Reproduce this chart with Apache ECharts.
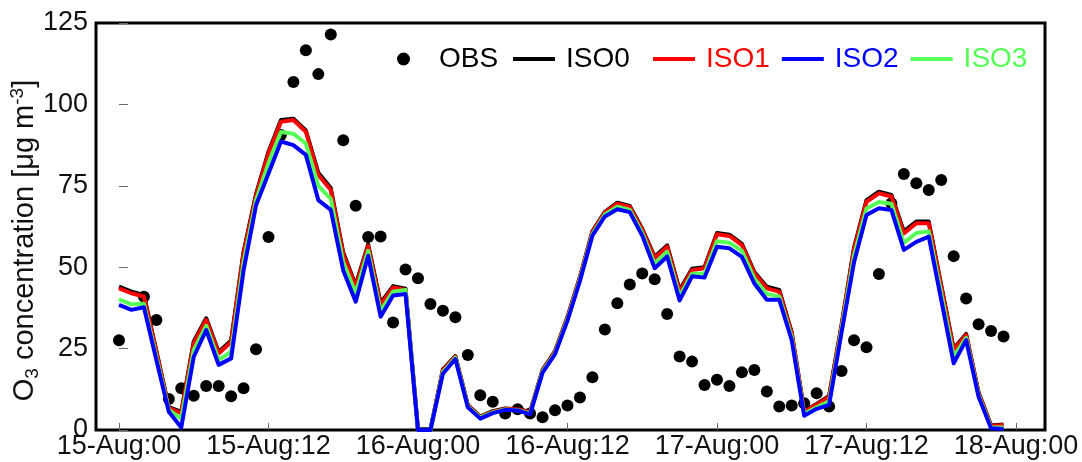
<!DOCTYPE html>
<html>
<head>
<meta charset="utf-8">
<script src="https://cdn.jsdelivr.net/npm/echarts@6/dist/echarts.min.js"></script>
<style>html,body{margin:0;padding:0;background:#fff}#c{width:1082px;height:462px}</style>
</head>
<body>
<div id="c"></div>
<script>
// Hours since 15-Aug 00:00 at which x ticks are drawn, and their labels
const tickHours = [0, 12, 24, 36, 48, 60, 72];
const tickLabels = ['15-Aug:00', '15-Aug:12', '16-Aug:00', '16-Aug:12', '17-Aug:00', '17-Aug:12', '18-Aug:00'];

// Hourly values (index = hour since 15-Aug 00:00); null = no observation
const obs = [27.6, null, 40.9, 33.8, 9.5, 12.8, 10.5, 13.5, 13.5, 10.4,
  12.8, 24.8, 59.3, 90.6, 106.9, 116.6, 109.3, 121.5, 89, 68.9,
  59.3, 59.4, 33, 49.3, 46.6, 38.7, 36.6, 34.6, 23, 10.7,
  8.7, 5.1, 6.4, 5.1, 3.9, 6.1, 7.5, 10, 16.2, 30.9,
  38.9, 44.7, 48.1, 46.3, 35.6, 22.6, 21, 13.8, 15.4, 13.5,
  17.7, 18.4, 11.8, 7.2, 7.5, 8.2, 11.3, 7.2, 18.1, 27.6,
  25.4, 47.9, 69.6, 78.6, 75.8, 73.7, 76.8, 53.4, 40.4, 32.5,
  30.4, 28.7];

const iso0 = [44, 42.5, 41.5, 24.3, 7, 5.6, 27.2, 34.3, 24, 27.5,
  54.8, 72.5, 85.5, 95.2, 95.6, 92, 79, 74.3, 54.5, 44.5,
  57, 39, 44.2, 43.4, 0.2, 0.2, 18.6, 22.7, 7.7, 4.1,
  5.8, 6.6, 6.4, 5.6, 18.5, 24.2, 34.7, 47, 61, 67,
  69.8, 68.8, 61.8, 53.2, 56.7, 43, 49.5, 50, 60.5, 60,
  57.2, 48.5, 44, 43, 30, 5.8, 8, 10.5, 32.3, 56,
  70.6, 73.2, 72.2, 61, 64, 64, 44.5, 25, 29.5, 11.5,
  1.4, 1.7];

const iso1 = [43.5, 42, 41, 24, 6.7, 5.2, 26.7, 33.8, 23.5, 27,
  54.2, 72, 85, 94.7, 95.2, 91.6, 78.3, 73.7, 54, 44,
  56.5, 38.5, 43.8, 43, 0, 0, 18.4, 22.5, 7.5, 4,
  5.6, 6.5, 6.3, 5.5, 18.3, 24, 34.5, 46.8, 60.8, 66.8,
  69.5, 68.5, 61.5, 52.8, 56.3, 42.5, 49.1, 49.7, 60.1, 59.6,
  56.8, 48.1, 43.5, 42.5, 29.7, 5.6, 7.8, 10.2, 32, 55.5,
  70.1, 72.7, 71.7, 60.4, 63.5, 63.5, 44, 24.6, 29.2, 11.3,
  1.2, 1.5];

const iso2 = [38.4, 36.9, 37.7, 21.5, 5.6, 0.8, 22.5, 30.7, 20, 22,
  49, 69, 78.8, 88.6, 87.5, 84.5, 70.6, 67.6, 49, 39.4,
  53.5, 34.8, 41.3, 41.8, 0, 0, 17.3, 21.8, 7, 3.5,
  5.2, 6.2, 6, 4.8, 17.6, 23.3, 33.6, 45.8, 59.7, 65.6,
  67.8, 66.9, 59.7, 49.7, 53.3, 39.8, 47.2, 46.8, 56.3, 55.8,
  53.2, 45, 40, 40, 27.6, 4.4, 6.5, 7.7, 30, 51.5,
  66, 68.1, 67.6, 55.3, 57.8, 59.4, 40, 20.5, 27.6, 10.2,
  0.5, 0.3];

const iso3 = [40.1, 38.6, 38.8, 22.5, 6.2, 3.5, 24.5, 32, 21.5, 24,
  51.5, 70.5, 82, 91.5, 91, 88, 75, 71, 51.5, 42,
  55, 36.5, 42.5, 43, 0, 0, 17.8, 22.2, 7.2, 3.8,
  5.4, 6.3, 6.1, 5.1, 18, 23.6, 34, 46.3, 60.2, 66.2,
  68.6, 67.6, 60.5, 51, 54.8, 41, 48, 48, 58, 57.5,
  55, 46.5, 41.8, 41, 28.5, 5, 7, 8.8, 31, 53.5,
  68, 70, 69.5, 57.5, 60.5, 61, 42, 22.5, 28.3, 10.7,
  0.8, 0.8];

const FONT = 'Liberation Sans, Arial, sans-serif';
const TXT = '#111';
const COLORS = { OBS: '#000000', ISO0: '#000000', ISO1: '#ff0000', ISO2: '#0000ff', ISO3: '#55ff55' };

const pairs = arr => arr.map((v, i) => [i, v]);

const lineSeries = (name, arr) => ({
  name, type: 'line', data: pairs(arr), symbol: 'none', showSymbol: false,
  lineStyle: { width: 4, color: COLORS[name], join: 'round' },
  itemStyle: { color: COLORS[name] }
});

const legendText = { fontSize: 28, fontFamily: FONT, color: '#000', padding: [0, 0, 0, 6] };

const chart = echarts.init(document.getElementById('c'), null, { renderer: 'canvas' });
chart.setOption({
  animation: false,
  backgroundColor: '#fff',
  textStyle: { fontFamily: FONT, color: TXT },
  grid: {
    left: 96, right: 37, top: 23, bottom: 32, containLabel: false, outerBoundsMode: 'none',
    show: true, borderColor: '#000', borderWidth: 3, backgroundColor: 'transparent'
  },
  legend: [
    {
      left: 397, top: 45, padding: 0, itemWidth: 13, itemHeight: 13,
      data: [{ name: 'OBS', icon: 'circle' }],
      textStyle: { fontSize: 28, fontFamily: FONT, color: '#000', padding: [0, 0, 0, 24] },
      selectedMode: false
    },
    {
      left: 513, top: 45, padding: 0, itemWidth: 42, itemHeight: 4,
      data: [{ name: 'ISO0', icon: 'rect', textStyle: { color: '#000' } }],
      textStyle: legendText,
      selectedMode: false
    },
    {
      left: 653, top: 45, padding: 0, itemWidth: 42, itemHeight: 4, itemGap: 12,
      data: [
        { name: 'ISO1', icon: 'rect', textStyle: { color: COLORS.ISO1 } },
        { name: 'ISO2', icon: 'rect', textStyle: { color: COLORS.ISO2 } },
        { name: 'ISO3', icon: 'rect', textStyle: { color: COLORS.ISO3 } }
      ],
      textStyle: legendText,
      selectedMode: false
    }
  ],
  xAxis: {
    type: 'value', min: -1.846, max: 74.33,
    axisLine: { show: false },
    splitLine: { show: false },
    axisTick: { show: true, inside: true, length: 7, customValues: tickHours, lineStyle: { color: '#666', width: 1 } },
    axisLabel: {
      customValues: tickHours, margin: 3, fontSize: 27, fontFamily: FONT, color: TXT,
      formatter: v => tickLabels[tickHours.indexOf(Math.round(v))] || ''
    }
  },
  yAxis: {
    type: 'value', min: 0, max: 125, interval: 25,
    axisLine: { show: false },
    splitLine: { show: false },
    axisTick: { show: true, inside: true, length: 9, lineStyle: { color: '#666', width: 1 } },
    axisLabel: { margin: 8, fontSize: 27, fontFamily: FONT, color: TXT },
    name: '{a|O}{b|3}{a| concentration [μg m}{c|-3}{a|]}',
    nameLocation: 'middle', nameRotate: 90, nameGap: 54, nameMoveOverlap: false,
    nameTextStyle: {
      fontFamily: FONT, color: TXT, padding: [0, 28, 0, 0],
      rich: {
        a: { fontSize: 29, fontFamily: FONT, color: TXT, lineHeight: 34 },
        b: { fontSize: 19, fontFamily: FONT, color: TXT, lineHeight: 19, verticalAlign: 'bottom' },
        c: { fontSize: 19, fontFamily: FONT, color: TXT, lineHeight: 19, verticalAlign: 'top' }
      }
    }
  },
  series: [
    { name: 'OBS', type: 'scatter', data: pairs(obs), symbol: 'circle', symbolSize: 12, itemStyle: { color: COLORS.OBS, opacity: 1 }, z: 1 },
    lineSeries('ISO0', iso0),
    lineSeries('ISO1', iso1),
    lineSeries('ISO3', iso3),
    lineSeries('ISO2', iso2)
  ]
});
</script>
</body>
</html>
